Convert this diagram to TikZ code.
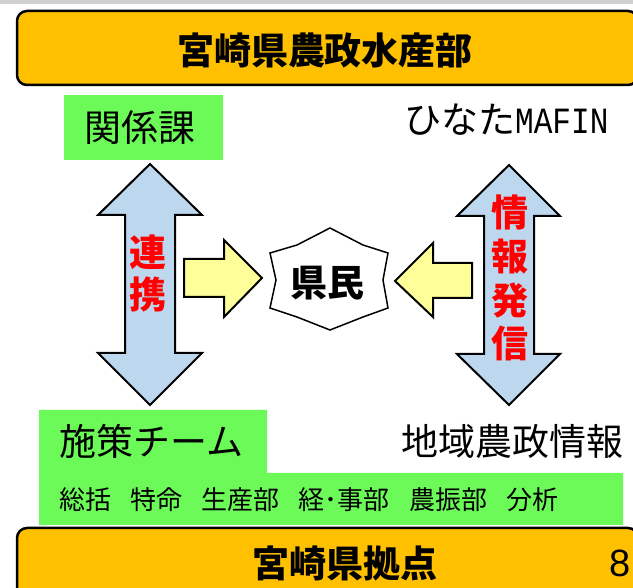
\documentclass[tikz,border=0pt]{standalone}
\usepackage{fontspec}
\newfontfamily\jp{Noto Sans CJK JP}
\newfontfamily\monofont{Liberation Mono}
\newfontfamily\arialfont{Liberation Sans}
\definecolor{boxorange}{RGB}{255,192,0}
\definecolor{boxgreen}{RGB}{108,250,88}
\definecolor{arrowblue}{RGB}{189,215,238}
\definecolor{arrowyellow}{RGB}{255,255,153}
\definecolor{topgray}{RGB}{208,208,208}
\newcommand\myfs[1]{\fontsize{#1}{#1}\selectfont}
\begin{document}
\begin{tikzpicture}[x=1pt,y=-1pt,
  orangebox/.style={draw=black, line width=2.5pt, fill=boxorange, rounded corners=10pt},
  dblarrow/.style={draw=black, line width=2pt, fill=arrowblue, line join=miter},
  yelarrow/.style={draw=black, line width=2pt, fill=arrowyellow, line join=miter},
  greenfill/.style={fill=boxgreen},
  lbl/.style={inner sep=0pt, font=\jp\myfs{37}},
  boldlbl/.style={inner sep=0pt, font=\jp\bfseries\myfs{37}},
  redtxt/.style={inner sep=0pt, text=red, font=\jp\bfseries\myfs{37}},
  smalllbl/.style={inner sep=0pt, anchor=west, font=\jp\myfs{26}},
  starshape/.style={draw=black, line width=1.5pt, fill=white, line join=miter}
]
\useasboundingbox (0,0) rectangle (633,588);
\clip (0,0) rectangle (633,588);
\fill[topgray] (0,0) rectangle (633,4.5);

% top box
\draw[orangebox] (17,11) rectangle (638,85);
\node[boldlbl] (hq) at (325,50) {宮崎県農政水産部};

% 関係課
\fill[greenfill] (64,95) rectangle (223,160);
\node[lbl] (kankei) at (140,128) {関係課};

% ひなたMAFIN
\node[lbl, anchor=west] (hinata) at (404,120) {ひなた\scalebox{0.84}[1]{\monofont\myfs{37}MAFIN}};

% left double arrow
\draw[dblarrow] (150,164) -- (202,215) -- (175,215) -- (175,353) -- (202,353) -- (150,405)
  -- (98,353) -- (125,353) -- (125,215) -- (98,215) -- cycle;
\node[redtxt] (ren) at (148,252) {連};
\node[redtxt] (kei) at (148,294) {携};

% right double arrow
\draw[dblarrow] (509,165) -- (560,216) -- (534,216) -- (534,354) -- (560,354) -- (509,405)
  -- (457,354) -- (484,354) -- (484,216) -- (457,216) -- cycle;
\node[redtxt] (jo) at (510,212) {情};
\node[redtxt] (ho) at (510,257) {報};
\node[redtxt] (hatsu) at (510,301) {発};
\node[redtxt] (shin) at (510,343) {信};

% yellow arrows
\draw[yelarrow] (184,259) -- (224,259) -- (224,240) -- (262,278) -- (224,317) -- (224,297) -- (184,297) -- cycle;
\draw[yelarrow] (472,263) -- (433,263) -- (433,243) -- (395,281) -- (433,317) -- (433,298) -- (472,298) -- cycle;

% star 県民
\draw[starshape] (330,228) -- (363,245) -- (388,253) -- (383,280) -- (388,308) -- (363,317)
  -- (330,330) -- (297,317) -- (270,308) -- (276,280) -- (270,253) -- (297,245) -- cycle;
\node[boldlbl] (kenmin) at (327,283) {県民};

% bottom green area
\fill[greenfill] (39,410) -- (267,410) -- (267,473) -- (623,473) -- (623,525) -- (39,525) -- cycle;
\node[lbl, anchor=west] (shisaku) at (59,441) {施策チーム};
\node[lbl, anchor=west] (chiiki) at (401,441) {地域農政情報};
\node[smalllbl] (w1) at (59,500) {総括};
\node[smalllbl] (w2) at (130,500) {特命};
\node[smalllbl] (w3) at (201,500) {生産部};
\node[smalllbl] (w4) at (298,500) {経･事部};
\node[smalllbl] (w5) at (409,500) {農振部};
\node[smalllbl] (w6) at (506,500) {分析};

% bottom box
\draw[orangebox] (17,528) rectangle (638,612);
\node[boldlbl] (kyoten) at (345,563) {宮崎県拠点};
\node[inner sep=0pt, anchor=west, font=\arialfont\myfs{38}] (page) at (609,563) {8};
\end{tikzpicture}
\end{document}
